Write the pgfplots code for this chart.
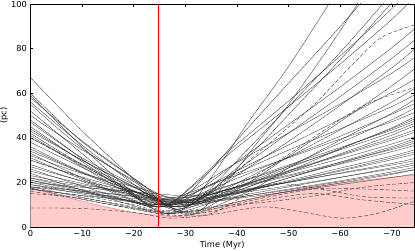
\documentclass[border=0pt]{standalone}
\usepackage{pgfplots}
\pgfplotsset{compat=1.18}
\usepackage{fontspec}
\setmainfont{DejaVu Sans}
\definecolor{pinkfill}{RGB}{255,204,204}
\begin{document}
\begin{tikzpicture}
\begin{axis}[
  at={(0,0)}, anchor=south west,
  scale only axis, width=383.5bp, height=223bp,
  x dir=reverse, xmin=-74.3, xmax=0, ymin=0, ymax=100,
  xtick={0,-10,-20,-30,-40,-50,-60,-70},
  xticklabels={0,−10,−20,−30,−40,−50,−60,−70},
  ytick={0,20,40,60,80,100},
  yticklabels={0,20,40,60,80,100},
  tick align=inside, major tick length=3bp,
  tick style={black, line width=0.5bp},
  axis line style={line width=0.8bp},
  every tick label/.append style={font=\fontsize{8.3}{10}\selectfont},
  label style={font=\fontsize{8.3}{10}\selectfont},
  xlabel={Time (Myr)},
  ylabel={(pc)},
  xlabel style={at={(axis description cs:0.5,0)}, anchor=center, yshift=-18bp},
  ylabel style={at={(axis description cs:-0.069,0.5)}, anchor=center},
  sl/.style={black!85, line width=0.3bp, smooth, no markers},
  dl/.style={black!85, line width=0.35bp, smooth, no markers, dash pattern=on 4bp off 2bp},
]
% envelope (shaded region)
\addplot[fill=pinkfill, draw=none, smooth] coordinates {(0,17.5) (-5,14.5) (-10,11.6) (-15,8.8) (-20,6.5) (-25,5.2) (-28,4.7) (-31,5.3) (-35,7.8) (-40,11.2) (-45,13.9) (-50,16.1) (-55,18) (-60,19.7) (-65,21) (-70,22.3) (-75,23.5)} \closedcycle;
\addplot[red!55, line width=0.5bp, smooth] coordinates {(0,17.5) (-5,14.5) (-10,11.6) (-15,8.8) (-20,6.5) (-25,5.2) (-28,4.7) (-31,5.3) (-35,7.8) (-40,11.2) (-45,13.9) (-50,16.1) (-55,18) (-60,19.7) (-65,21) (-70,22.3) (-75,23.5)};
% trajectories (solid)
\addplot[sl] coordinates {(0,67) (-10,43.1) (-20,21.4) (-24,12.3) (-27,10) (-30,13.6) (-35,25.7) (-40,39.0) (-50,64.5) (-60,89.9) (-70,116.5) (-75,131)};
\addplot[sl] coordinates {(0,60) (-10,38.2) (-22,18.4) (-26,10.1) (-29,8) (-32,12.8) (-37,28.8) (-42,46.4) (-50,72) (-60,108) (-70,145) (-75,168)};
\addplot[sl] coordinates {(0,59) (-10,36) (-18,19) (-22,11) (-25,9) (-28,12.0) (-33,22.1) (-38,33.2) (-50,56.5) (-60,76.7) (-70,97.9) (-75,110)};
\addplot[sl] coordinates {(0,58) (-10,38.6) (-24,15.2) (-28,7.5) (-31,5.5) (-34,9.5) (-39,23) (-44,38) (-50,55) (-60,88) (-70,125) (-75,147)};
\addplot[sl] coordinates {(0,56) (-10,36.7) (-20,19.2) (-24,11.8) (-27,10) (-30,12.4) (-35,20.4) (-40,29.2) (-50,46) (-60,62.8) (-70,80.4) (-75,90)};
\addplot[sl] coordinates {(0,55) (-10,35.3) (-22,17.4) (-26,9.9) (-29,8) (-32,11.3) (-37,22.4) (-42,34.6) (-50,54) (-60,78.3) (-70,104.7) (-75,119)};
\addplot[sl] coordinates {(0,52) (-10,32.9) (-18,17.6) (-22,10.7) (-25,9) (-28,11.9) (-33,21.4) (-38,31.9) (-50,54) (-60,73.1) (-70,93.1) (-75,104.6)};
\addplot[sl] coordinates {(0,50) (-10,34.6) (-24,15.8) (-28,12.6) (-31,11) (-34,14.1) (-39,24.4) (-44,35.7) (-50,50.4) (-60,75) (-70,100.6) (-75,114)};
\addplot[sl] coordinates {(0,48) (-10,30.5) (-20,14.5) (-24,7.8) (-27,6) (-30,8.5) (-35,16.5) (-40,25.3) (-50,42.1) (-60,58.5) (-70,75.6) (-75,85)};
\addplot[sl] coordinates {(0,47) (-10,31) (-22,16.6) (-26,10.5) (-29,9) (-32,11.2) (-37,18.4) (-42,26.3) (-50,38.4) (-60,54.5) (-70,71.4) (-75,81)};
\addplot[sl] coordinates {(0,45) (-10,29.3) (-18,17) (-22,11.4) (-25,10) (-28,12) (-33,18.7) (-38,26.1) (-50,42.2) (-60,55.2) (-70,69) (-75,77)};
\addplot[sl] coordinates {(0,44) (-10,29.9) (-24,13.2) (-28,8) (-31,6.5) (-34,8.5) (-39,15.3) (-44,22.4) (-50,31.8) (-60,47.2) (-70,63.3) (-75,72)};
\addplot[sl] coordinates {(0,43) (-10,30) (-20,18.2) (-24,13.2) (-27,12) (-30,13.7) (-35,19.2) (-40,25.2) (-50,36.8) (-60,48.3) (-70,60.4) (-75,67)};
\addplot[sl] coordinates {(0,42) (-10,28.1) (-22,15.6) (-26,10.3) (-29,9) (-32,10.6) (-37,16) (-42,22) (-50,31.3) (-60,43.6) (-70,56) (-75,63)};
\addplot[sl] coordinates {(0,41) (-10,27) (-18,16.2) (-22,11.2) (-25,10) (-28,11.5) (-33,16.5) (-38,22) (-50,34.5) (-60,44) (-70,54) (-75,60)};
\addplot[sl] coordinates {(0,40) (-10,27.6) (-24,11.4) (-28,7.3) (-31,6) (-34,7.5) (-39,12.5) (-44,18) (-50,26.5) (-60,39) (-70,51) (-75,58)};
\addplot[sl] coordinates {(0,38) (-10,26.7) (-20,16.4) (-24,12.1) (-27,11) (-30,12.4) (-35,16.9) (-40,21.8) (-50,31.3) (-60,40.7) (-70,50.6) (-75,56)};
\addplot[sl] coordinates {(0,36) (-10,24.7) (-22,14.4) (-26,10.1) (-29,9) (-32,10.4) (-37,14.9) (-42,19.8) (-50,27.3) (-60,37.7) (-70,48.1) (-75,54)};
\addplot[sl] coordinates {(0,35) (-10,24.3) (-18,16.6) (-22,12.9) (-25,12) (-28,13.2) (-33,17.2) (-38,21.6) (-50,31) (-60,39.4) (-70,47.2) (-75,52)};
\addplot[sl] coordinates {(0,34) (-10,24.4) (-24,12.8) (-28,11) (-31,10) (-34,11.2) (-39,15.2) (-44,19.6) (-50,25) (-60,35) (-70,44.5) (-75,50)};
\addplot[sl] coordinates {(0,33) (-10,22) (-20,12) (-24,8) (-27,6.5) (-30,8) (-35,12.5) (-40,17.2) (-50,26.5) (-60,35.1) (-70,44.1) (-75,49)};
\addplot[sl] coordinates {(0,32) (-10,24) (-22,16.8) (-26,13.8) (-29,13) (-32,14) (-37,17.6) (-42,21.4) (-50,27.8) (-60,35.6) (-70,43.5) (-75,48)};
\addplot[sl] coordinates {(0,31) (-10,21.3) (-18,13.4) (-22,9.9) (-25,9) (-28,10.1) (-33,13.9) (-38,18.1) (-50,27.1) (-60,34.6) (-70,42.4) (-75,47)};
\addplot[sl] coordinates {(0,30) (-10,22.4) (-24,13.2) (-28,11.8) (-31,11) (-34,12) (-39,15.6) (-44,19.4) (-50,24.3) (-60,32.8) (-70,41.2) (-75,46)};
\addplot[sl] coordinates {(0,28) (-10,20.4) (-20,13.6) (-24,10.7) (-27,10) (-30,11) (-35,14.4) (-40,18.2) (-50,25.3) (-60,32.4) (-70,39.9) (-75,44)};
\addplot[sl] coordinates {(0,27) (-10,20.7) (-22,15) (-26,12.6) (-29,12) (-32,12.9) (-37,16) (-42,19.4) (-50,25) (-60,32) (-70,39) (-75,43)};
\addplot[sl] coordinates {(0,26) (-10,18.4) (-18,12.4) (-22,9.7) (-25,9) (-28,10) (-33,13.2) (-38,16.7) (-50,24.4) (-60,30.6) (-70,37.2) (-75,41)};
\addplot[sl] coordinates {(0,25) (-10,19.5) (-24,12.6) (-28,11.4) (-31,11) (-34,11.9) (-39,14.8) (-44,18) (-50,22) (-60,29.1) (-70,36) (-75,40)};
\addplot[sl] coordinates {(0,24) (-10,16.5) (-20,9.5) (-24,7) (-27,6) (-30,7.2) (-35,10.8) (-40,14.8) (-50,22) (-60,28.5) (-70,35.3) (-75,39)};
\addplot[sl] coordinates {(0,23) (-10,18.8) (-22,15) (-26,13.4) (-29,13) (-32,13.8) (-37,16.3) (-42,19) (-50,23.3) (-60,29) (-70,34.7) (-75,38)};
\addplot[sl] coordinates {(0,22) (-10,16.6) (-18,12.4) (-22,10.5) (-25,10) (-28,10.8) (-33,13.5) (-38,16.5) (-50,22.8) (-60,28.2) (-70,33.8) (-75,37)};
\addplot[sl] coordinates {(0,22) (-10,18.2) (-24,13.4) (-28,12.4) (-31,12) (-34,12.7) (-39,15) (-44,17.5) (-50,20.8) (-60,26.4) (-70,31.8) (-75,35)};
\addplot[sl] coordinates {(0,21) (-10,16) (-20,11.4) (-24,9.5) (-27,9) (-30,9.8) (-35,12.3) (-40,15) (-50,20.3) (-60,25.5) (-70,31) (-75,34)};
\addplot[sl] coordinates {(0,21) (-10,16.8) (-22,13) (-26,11.4) (-29,11) (-32,11.7) (-37,13.9) (-42,16.3) (-50,20.2) (-60,25.1) (-70,30.2) (-75,33)};
\addplot[sl] coordinates {(0,20) (-10,15.5) (-18,12) (-22,10.4) (-25,10) (-28,10.6) (-33,12.7) (-38,15) (-50,20) (-60,24.2) (-70,28.5) (-75,31)};
\addplot[sl] coordinates {(0,20) (-10,17.8) (-24,15) (-28,14.2) (-31,14) (-34,14.5) (-39,16.1) (-44,17.8) (-50,20) (-60,24) (-70,27.8) (-75,30)};
\addplot[sl] coordinates {(0,19) (-10,14.8) (-20,11) (-24,9.4) (-27,9) (-30,9.6) (-35,11.6) (-40,13.8) (-50,18) (-60,22.2) (-70,26.6) (-75,29)};
\addplot[sl] coordinates {(0,19) (-10,16.1) (-22,13.4) (-26,12.3) (-29,12) (-32,12.5) (-37,14.1) (-42,15.8) (-50,18.5) (-60,22.3) (-70,26) (-75,28)};
\addplot[sl] coordinates {(0,18) (-10,13.3) (-18,9.5) (-22,7.8) (-25,7) (-28,7.8) (-33,10) (-38,12.4) (-50,17) (-60,20.7) (-70,24.7) (-75,27)};
\addplot[sl] coordinates {(0,18) (-10,15.3) (-24,11.8) (-28,11.1) (-31,11) (-34,11.5) (-39,13) (-44,14.6) (-50,16.6) (-60,20.3) (-70,24) (-75,26)};
\addplot[sl] coordinates {(0,17.5) (-10,12.4) (-20,8.2) (-24,6.4) (-27,6) (-30,6.6) (-35,8.6) (-40,11.2) (-50,16) (-60,19.7) (-70,23.6) (-75,26)};
\addplot[sl] coordinates {(0,17) (-10,14.1) (-22,11.4) (-26,10.3) (-29,10) (-32,10.4) (-37,11.8) (-42,13.4) (-50,15.8) (-60,19) (-70,22.2) (-75,24)};
% trajectories (dashed)
\addplot[dl] coordinates {(0,8.5) (-10,8.3) (-20,6.5) (-27,4) (-35,5.5) (-45,9) (-52,7) (-60,4) (-67,6) (-75,12)};
\addplot[dl] coordinates {(0,15) (-10,13) (-20,9) (-27,5) (-35,7) (-45,12) (-55,15) (-65,12) (-75,10)};
\addplot[dl] coordinates {(0,17) (-10,14) (-20,10) (-27,6) (-35,9) (-45,11) (-55,14) (-65,18) (-75,20)};
\addplot[dl] coordinates {(0,18) (-10,16) (-20,11) (-27,7) (-35,8) (-45,13) (-55,17) (-65,17) (-75,16)};
\addplot[dl] coordinates {(0,16) (-10,12.5) (-20,8) (-27,5.5) (-35,6) (-46,19) (-56,17) (-65,13.5) (-75,13)};
\addplot[dl] coordinates {(0,30) (-10,22) (-20,14) (-27,10) (-35,13) (-45,25) (-56,42) (-65,55) (-75,63)};
\addplot[dl] coordinates {(0,40) (-10,28) (-20,15) (-27,9) (-35,16) (-45,35) (-55,55) (-62,72) (-68,85) (-75,91)};
% vertical marker
\addplot[red, line width=1.1bp] coordinates {(-24.8,0) (-24.8,100)};
\end{axis}
\pgfresetboundingbox
\path[use as bounding box] (-30.5bp,-24bp) rectangle (384.5bp,227bp);
\end{tikzpicture}
\end{document}
